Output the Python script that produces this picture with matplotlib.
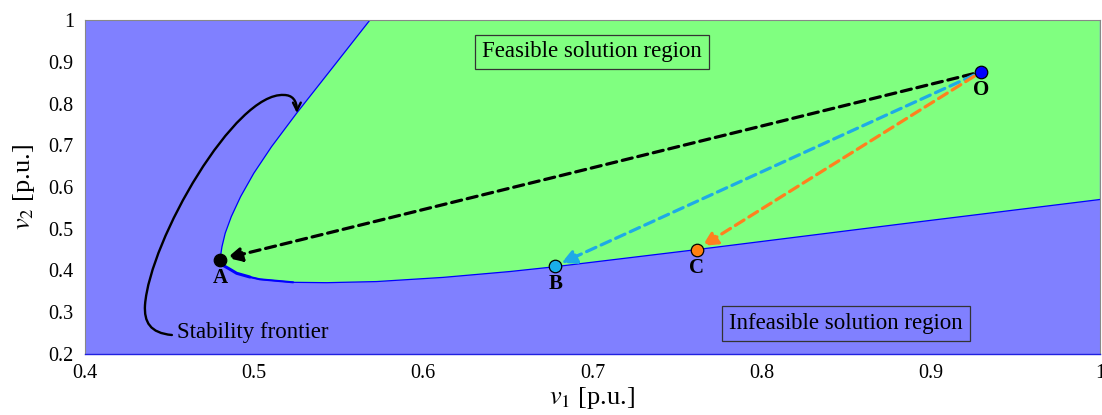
import numpy as np
import matplotlib
matplotlib.use("Agg")
import matplotlib.pyplot as plt
from matplotlib.path import Path
from matplotlib.patches import FancyArrowPatch

plt.rcParams["font.family"] = ["Liberation Serif", "DejaVu Serif"]
plt.rcParams["mathtext.fontset"] = "stix"

# stability frontier (v1, v2), from the top of the upper branch round the nose
frontier_v1 = [0.5685, 0.5468, 0.5251, 0.5103, 0.4998, 0.4920, 0.4865, 0.4829,
               0.4810, 0.4801, 0.4803, 0.4818, 0.4857, 0.4897, 0.4975, 0.5034,
               0.5231, 0.5429, 0.5724, 0.6118, 0.6512, 0.6778, 0.7616, 0.8818,
               1.0000]
frontier_v2 = [1.0000, 0.8881, 0.7765, 0.6965, 0.6328, 0.5768, 0.5289, 0.4891,
               0.4570, 0.4331, 0.4204, 0.4120, 0.4030, 0.3933, 0.3844, 0.3789,
               0.3717, 0.3708, 0.3735, 0.3835, 0.3975, 0.4090, 0.4500, 0.5110,
               0.5700]

# operating points
point_names = ["O", "A", "B", "C"]
point_v1 = [0.930, 0.480, 0.678, 0.7616]
point_v2 = [0.876, 0.426, 0.411, 0.4500]
point_colors = ["#0000FF", "#000000", "#1AAEE8", "#FF8010"]
arrow_colors = ["#000000", "#1EAAE6", "#FF7F1E"]  # O->A, O->B, O->C

# callout curve for "Stability frontier" (bezier control points, data units)
callout_v1 = [0.4514, 0.4384, 0.4349, 0.4355, 0.4384, 0.4887, 0.5176, 0.5224, 0.5253, 0.5253]
callout_v2 = [0.2455, 0.2503, 0.2766, 0.3174, 0.4731, 0.8275, 0.8204, 0.8204, 0.8084, 0.7772]

FONT_SIZE = 16.5
TICK_SIZE = 14.5

fig = plt.figure(figsize=(11.02, 4.15), dpi=100)
ax = fig.add_axes([0.0771, 0.147, 0.9209, 0.8048])

ax.set_xlim(0.4, 1.0)
ax.set_ylim(0.2, 1.0)
ax.set_facecolor("#8080FF")

# feasible region
poly_x = frontier_v1 + [1.0]
poly_y = frontier_v2 + [1.0]
ax.fill(poly_x, poly_y, color="#80FF80", lw=0, zorder=1)
ax.plot(frontier_v1, frontier_v2, color="#0000FF", lw=0.9, zorder=2)
# slightly thicker blue band round the nose
ax.plot(frontier_v1[9:15], frontier_v2[9:15], color="#0000FF", lw=2.2, zorder=2,
        solid_capstyle="round")
ax.plot(frontier_v1[14:17], frontier_v2[14:17], color="#0000FF", lw=1.5, zorder=2,
        solid_capstyle="round")

# dashed arrows from O
ox, oy = point_v1[0], point_v2[0]
for i in range(1, 4):
    arr = FancyArrowPatch(
        (ox, oy), (point_v1[i], point_v2[i]),
        arrowstyle="-|>", mutation_scale=22,
        color=arrow_colors[i - 1], lw=2.3, linestyle=(0, (3.2, 1.8)),
        shrinkA=6, shrinkB=5, zorder=3,
    )
    ax.add_patch(arr)

# markers and labels
for name, x, y, c in zip(point_names, point_v1, point_v2, point_colors):
    ax.plot(x, y, "o", ms=9, mfc=c, mec="black", mew=0.9, zorder=4)
    ax.annotate(name, (x, y), xytext=(0, -13), textcoords="offset points",
                ha="center", va="center", fontsize=TICK_SIZE + 0.5,
                fontweight="bold", zorder=5)

# stability frontier callout
verts = list(zip(callout_v1, callout_v2))
codes = [Path.MOVETO] + [Path.CURVE4] * 9
callout = FancyArrowPatch(path=Path(verts, codes), arrowstyle="->",
                          mutation_scale=14, color="black", lw=1.7, zorder=3)
ax.add_patch(callout)
ax.text(0.4545, 0.252, "Stability frontier", fontsize=FONT_SIZE,
        ha="left", va="center", zorder=5)

# region labels
box = dict(boxstyle="square,pad=0.3", facecolor="none", edgecolor="#333333", lw=0.9)
ax.text(0.6997, 0.9234, "Feasible solution region", fontsize=FONT_SIZE,
        ha="center", va="center", bbox=box, zorder=5)
ax.text(0.850, 0.2726, "Infeasible solution region", fontsize=FONT_SIZE,
        ha="center", va="center", bbox=box, zorder=5)

ax.set_xticks([0.4, 0.5, 0.6, 0.7, 0.8, 0.9, 1.0])
ax.set_xticklabels(["0.4", "0.5", "0.6", "0.7", "0.8", "0.9", "1"])
ax.set_yticks([0.2, 0.3, 0.4, 0.5, 0.6, 0.7, 0.8, 0.9, 1.0])
ax.set_yticklabels(["0.2", "0.3", "0.4", "0.5", "0.6", "0.7", "0.8", "0.9", "1"])
ax.tick_params(length=0, labelsize=TICK_SIZE)
ax.tick_params(axis="x", pad=7)
ax.tick_params(axis="y", pad=8)

ax.set_xlabel(r"$v_1$ [p.u.]", fontsize=19, labelpad=2)
ax.set_ylabel(r"$v_2$ [p.u.]", fontsize=19, labelpad=8)

for side in ["top", "left", "right"]:
    ax.spines[side].set_color("#888888")
    ax.spines[side].set_linewidth(0.8)
ax.spines["bottom"].set_color("#2020E0")
ax.spines["bottom"].set_linewidth(1.0)

fig.savefig("out.png", dpi=100)
